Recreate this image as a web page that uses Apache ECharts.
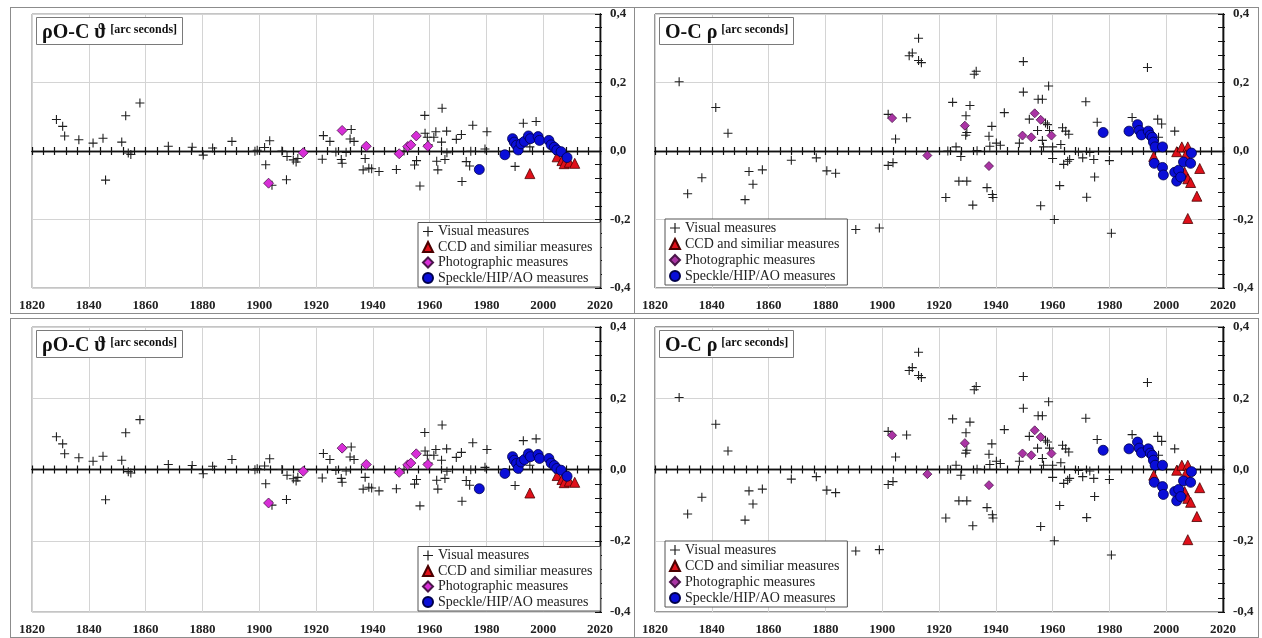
<!DOCTYPE html>
<html>
<head>
<meta charset="utf-8">
<title>O-C residuals</title>
<script src="https://cdn.jsdelivr.net/npm/echarts@6/dist/echarts.min.js"></script>
<style>
html, body { margin: 0; padding: 0; background: #fff; overflow: hidden; width: 1262px; height: 638px; }
.panel { position: absolute; box-sizing: border-box; border: 1px solid #8c8c8c; background: #fff; }
</style>
</head>
<body>
<div id="p1" class="panel" style="left:10px;top:7px;width:625px;height:307px;"></div>
<div id="p2" class="panel" style="left:634px;top:7px;width:625px;height:307px;"></div>
<div id="p3" class="panel" style="left:10px;top:318px;width:625px;height:320px;"></div>
<div id="p4" class="panel" style="left:634px;top:318px;width:625px;height:320px;"></div>
<script>
// O-C theta residuals (year, arc seconds)
const thetaVisual = [
  [1828.6, 0.092], [1830.8, 0.072], [1831.5, 0.044], [1836.5, 0.033], [1841.5, 0.023],
  [1845.0, 0.037], [1845.9, -0.085], [1851.6, 0.026], [1853.0, 0.103], [1853.9, -0.006],
  [1854.8, -0.010], [1858.0, 0.140], [1868.0, 0.014], [1876.4, 0.011], [1880.3, -0.012],
  [1883.6, 0.009], [1890.4, 0.028], [1898.5, -0.001], [1899.3, 0.002], [1901.9, 0.010],
  [1903.7, 0.030], [1902.3, -0.040], [1904.5, -0.100], [1908.0, 0.000], [1909.6, -0.084],
  [1909.8, -0.016], [1912.0, -0.026], [1913.0, -0.032], [1913.6, -0.022], [1922.6, 0.045],
  [1924.9, 0.028], [1922.2, -0.024], [1927.0, -0.003], [1928.9, -0.025], [1929.2, -0.036],
  [1930.6, -0.004], [1932.4, 0.063], [1932.0, 0.035], [1933.4, 0.028], [1936.6, -0.055],
  [1937.3, -0.022], [1938.6, -0.050], [1939.6, -0.052], [1942.2, -0.060], [1948.3, -0.054],
  [1951.0, 0.000], [1954.7, -0.041], [1955.4, -0.028], [1956.6, -0.102], [1958.3, 0.104],
  [1958.4, 0.052], [1959.2, 0.040], [1959.5, 0.018], [1961.5, 0.040], [1962.2, 0.056],
  [1962.5, -0.030], [1962.9, -0.055], [1964.4, 0.125], [1964.2, 0.026], [1965.4, -0.025],
  [1966.0, 0.058], [1966.1, -0.005], [1969.4, 0.034], [1971.2, 0.048], [1971.4, -0.089],
  [1972.9, -0.031], [1974.1, -0.044], [1974.5, -0.001], [1975.2, 0.075], [1979.5, 0.006],
  [1980.2, 0.056], [1990.1, -0.045], [1993.0, 0.081], [1995.3, 0.012], [1997.5, 0.086]
]
const thetaCCD = [
  [1995.3, -0.066], [2004.9, -0.017], [2006.6, -0.028], [2007.4, -0.037], [2009.2, -0.033], [2011.1, -0.036]
]
const thetaPhoto = [
  [1903.3, -0.094], [1915.5, -0.005], [1929.2, 0.060], [1937.7, 0.014], [1949.3, -0.008],
  [1952.3, 0.013], [1953.4, 0.018], [1955.3, 0.044], [1959.4, 0.014]
]
const thetaSpeckle = [
  [1977.5, -0.054], [1986.5, -0.011], [1989.2, 0.036], [1989.8, 0.026], [1990.6, 0.017],
  [1991.2, 0.003], [1992.2, 0.021], [1993.4, 0.028], [1994.8, 0.044], [1995.5, 0.036],
  [1998.2, 0.042], [1998.7, 0.031], [2002.0, 0.031], [2002.8, 0.018], [2003.9, 0.011],
  [2004.8, 0.003], [2006.3, -0.002], [2008.4, -0.019]
]

// O-C rho residuals (year, arc seconds)
const rhoVisual = [
  [1828.5, 0.202], [1831.5, -0.125], [1836.5, -0.078], [1841.4, 0.127], [1845.7, 0.052],
  [1851.7, -0.142], [1853.1, -0.060], [1854.5, -0.097], [1857.8, -0.055], [1868.0, -0.027],
  [1876.8, -0.020], [1880.5, -0.058], [1883.6, -0.065], [1890.7, -0.229], [1899.0, -0.225],
  [1902.1, -0.042], [1903.8, -0.034], [1902.1, 0.107], [1904.7, 0.035], [1908.6, 0.097],
  [1909.5, 0.278], [1910.6, 0.286], [1912.8, 0.329], [1912.8, 0.264], [1913.8, 0.258],
  [1922.4, -0.136], [1923.1, 0.000], [1924.8, 0.142], [1926.0, 0.012], [1927.0, -0.088],
  [1927.7, -0.016], [1929.5, 0.103], [1929.8, -0.088], [1929.4, 0.046], [1929.8, 0.054],
  [1930.9, 0.133], [1931.9, -0.158], [1932.4, 0.224], [1933.1, 0.233], [1933.4, 0.001],
  [1936.9, -0.107], [1937.6, 0.043], [1937.9, 0.014], [1938.6, 0.072], [1938.8, -0.127],
  [1939.0, -0.136], [1940.2, 0.023], [1941.6, 0.017], [1943.0, 0.112], [1948.3, 0.023],
  [1949.7, 0.261], [1949.7, 0.172], [1951.8, 0.093], [1954.7, 0.060], [1954.9, 0.151],
  [1956.4, 0.151], [1955.8, -0.160], [1956.4, 0.031], [1956.8, 0.012], [1957.5, 0.082],
  [1958.2, 0.077], [1958.6, 0.190], [1958.9, 0.060], [1960.0, 0.012], [1960.0, -0.022],
  [1960.6, -0.200], [1962.5, -0.101], [1962.9, 0.019], [1963.5, 0.068], [1963.9, -0.039],
  [1964.6, 0.058], [1965.3, -0.030], [1965.7, 0.049], [1966.0, -0.025], [1969.1, -0.003],
  [1970.6, -0.020], [1971.7, 0.144], [1972.0, -0.135], [1973.1, -0.004], [1974.5, -0.025],
  [1974.8, -0.076], [1975.7, 0.084], [1980.0, -0.028], [1980.7, -0.240], [1988.0, 0.098],
  [1993.4, 0.244], [1997.0, 0.093], [1998.4, 0.079], [1997.3, 0.040], [2003.0, 0.058]
]
const rhoCCD = [
  [1995.6, -0.016], [2003.7, -0.002], [2005.5, 0.012], [2007.6, 0.012], [2006.9, -0.011],
  [2006.5, -0.062], [2007.6, -0.081], [2008.6, -0.092], [2011.8, -0.051], [2010.8, -0.132],
  [2007.6, -0.197]
]
const rhoPhoto = [
  [1903.5, 0.096], [1915.9, -0.013], [1929.1, 0.074], [1937.6, -0.044], [1949.4, 0.045],
  [1952.5, 0.040], [1953.7, 0.110], [1955.8, 0.091], [1959.6, 0.045]
]
const rhoSpeckle = [
  [1977.8, 0.054], [1986.9, 0.058], [1989.9, 0.077], [1990.5, 0.060], [1991.3, 0.047],
  [1993.7, 0.058], [1994.4, 0.046], [1995.1, 0.040], [1995.5, 0.026], [1996.1, 0.012],
  [1998.7, 0.012], [1995.8, -0.036], [1998.7, -0.048], [1999.0, -0.070], [2003.0, -0.062],
  [2003.7, -0.088], [2004.4, -0.056], [2005.1, -0.076], [2006.1, -0.032], [2008.6, -0.036],
  [2008.9, -0.006]
]

const legendNames = ['Visual measures', 'CCD and similiar measures', 'Photographic measures', 'Speckle/HIP/AO measures']

const SERIF = "'Liberation Serif', 'Times New Roman', serif"
const CROSS = 'path://M0,4.4H10V5.6H0Z M4.4,0H5.6V10H4.4Z'

function yLabel (v) {
  const r = Math.round(v * 100)
  if (Math.abs(r) % 20 !== 0) return ''
  return (Math.round(v * 10) / 10).toFixed(1).replace('.', ',')
}

function buildOption (p) {
  const rect = p.rect
  const yRange = { type: 'value', min: -0.4, max: 0.4 }
  const xRange = { type: 'value', min: 1820, max: 2020 }
  return {
    animation: false,
    textStyle: { fontFamily: SERIF },
    title: {
      text: '{big|' + p.title + '}{sup|[arc seconds]}',
      left: p.titlePos[0],
      top: p.titlePos[1],
      padding: [4, 6, 2, 6],
      backgroundColor: '#fff',
      borderColor: '#7a7a7a',
      borderWidth: 1,
      textStyle: {
        rich: {
          big: { fontFamily: SERIF, fontSize: 20, fontWeight: 'bold', color: '#111', lineHeight: 24 },
          sup: { fontFamily: SERIF, fontSize: 12, fontWeight: 'bold', color: '#111', lineHeight: 14, verticalAlign: 'top', padding: [3, 0, 0, 4] }
        }
      }
    },
    legend: {
      orient: 'vertical',
      left: p.legendPos[0],
      bottom: p.legendPos[1],
      itemWidth: 10,
      itemHeight: 10,
      itemGap: p.legendGap,
      padding: [2, 8, 2, 4],
      backgroundColor: '#fff',
      borderColor: '#555',
      borderWidth: 1,
      textStyle: { fontFamily: SERIF, fontSize: 14, color: '#222' },
      data: legendNames
    },
    grid: [
      Object.assign({ show: true, borderColor: p.frame, borderWidth: 1, backgroundColor: 'transparent', outerBoundsMode: 'none' }, rect),
      Object.assign({ outerBoundsMode: 'none' }, rect)
    ],
    xAxis: [
      Object.assign({}, xRange, {
        gridIndex: 0,
        interval: 20,
        position: 'bottom',
        axisLine: { show: false, onZero: false },
        axisTick: { show: false },
        axisLabel: { fontFamily: SERIF, fontSize: 13, fontWeight: 'bold', color: '#222', margin: 11, formatter: v => String(v) },
        splitLine: { show: true, lineStyle: { color: '#d4d4d4', width: 1 } }
      }),
      // zero line, ticks pointing up
      Object.assign({}, xRange, {
        gridIndex: 0,
        interval: 4,
        position: 'top',
        axisLine: { show: true, onZero: true, onZeroAxisIndex: 0, lineStyle: { color: '#111', width: 1.4 } },
        axisTick: { show: true, inside: false, length: 4, lineStyle: { color: '#111', width: 1.2 } },
        axisLabel: { show: false },
        splitLine: { show: false }
      }),
      // zero line, ticks pointing down
      Object.assign({}, xRange, {
        gridIndex: 1,
        interval: 4,
        position: 'bottom',
        axisLine: { show: true, onZero: true, onZeroAxisIndex: 2, lineStyle: { color: '#111', width: 1.4 } },
        axisTick: { show: true, inside: false, length: 4, lineStyle: { color: '#111', width: 1.2 } },
        axisLabel: { show: false },
        splitLine: { show: false }
      })
    ],
    yAxis: [
      Object.assign({}, yRange, {
        gridIndex: 0,
        interval: 0.04,
        position: 'right',
        axisLine: { show: true, onZero: false, lineStyle: { color: '#111', width: 1.4 } },
        axisTick: { show: true, inside: true, length: 5, lineStyle: { color: '#111', width: 1 } },
        axisLabel: { fontFamily: SERIF, fontSize: 13, fontWeight: 'bold', color: '#222', margin: 10, formatter: yLabel },
        splitLine: { show: false }
      }),
      Object.assign({}, yRange, {
        gridIndex: 0,
        interval: 0.2,
        position: 'left',
        axisLine: { show: false, onZero: false },
        axisTick: { show: false },
        axisLabel: { show: false },
        splitLine: { show: true, lineStyle: { color: '#d4d4d4', width: 1 } }
      }),
      Object.assign({}, yRange, {
        gridIndex: 1,
        interval: 0.04,
        position: 'right',
        axisLine: { show: true, onZero: false, lineStyle: { color: '#111', width: 1.4 } },
        axisTick: { show: true, inside: false, length: 2, lineStyle: { color: '#111', width: 1 } },
        axisLabel: { show: false },
        splitLine: { show: false }
      })
    ],
    series: [
      {
        name: legendNames[0], type: 'scatter', xAxisIndex: 0, yAxisIndex: 0,
        symbol: CROSS, symbolSize: 9, symbolKeepAspect: true,
        itemStyle: { color: '#1e1e1e', opacity: 1 },
        data: p.visual
      },
      {
        name: legendNames[1], type: 'scatter', xAxisIndex: 0, yAxisIndex: 0,
        symbol: 'triangle', symbolSize: 10,
        itemStyle: { color: '#e0101a', borderColor: '#4a0000', borderWidth: 0.8, opacity: 1 },
        data: p.ccd
      },
      {
        name: legendNames[2], type: 'scatter', xAxisIndex: 0, yAxisIndex: 0,
        symbol: 'diamond', symbolSize: p.photoSize,
        itemStyle: { color: p.photoColor, borderColor: '#4a164a', borderWidth: 0.8, opacity: 1 },
        data: p.photo
      },
      {
        name: legendNames[3], type: 'scatter', xAxisIndex: 0, yAxisIndex: 0,
        symbol: 'circle', symbolSize: 10,
        itemStyle: { color: '#0a0ed8', borderColor: '#00004a', borderWidth: 0.8, opacity: 1 },
        data: p.speckle
      }
    ]
  }
}

const thetaPanel = {
  title: 'ρO-C ϑ',
  frame: '#8a8a8a',
  photoColor: '#d82ed8',
  photoSize: 10,
  legendGap: 1.5,
  visual: thetaVisual, ccd: thetaCCD, photo: thetaPhoto, speckle: thetaSpeckle
}
const rhoPanel = {
  title: 'O-C ρ',
  frame: '#333',
  photoColor: '#aa34a4',
  photoSize: 9,
  legendGap: 2,
  visual: rhoVisual, ccd: rhoCCD, photo: rhoPhoto, speckle: rhoSpeckle
}

const panels = [
  Object.assign({ id: 'p1', rect: { left: 21, right: 34, top: 6, bottom: 25 }, titlePos: [25, 9], legendPos: [407, 26] }, thetaPanel),
  Object.assign({ id: 'p2', rect: { left: 20, right: 35, top: 6, bottom: 25 }, titlePos: [24, 9], legendPos: [30, 28] }, rhoPanel),
  Object.assign({ id: 'p3', rect: { left: 21, right: 34, top: 8, bottom: 25 }, titlePos: [25, 11], legendPos: [407, 26] }, thetaPanel),
  Object.assign({ id: 'p4', rect: { left: 20, right: 35, top: 8, bottom: 25 }, titlePos: [24, 11], legendPos: [30, 30] }, rhoPanel)
]

panels.forEach(p => {
  const chart = echarts.init(document.getElementById(p.id))
  chart.setOption(buildOption(p))
})
</script>
</body>
</html>
